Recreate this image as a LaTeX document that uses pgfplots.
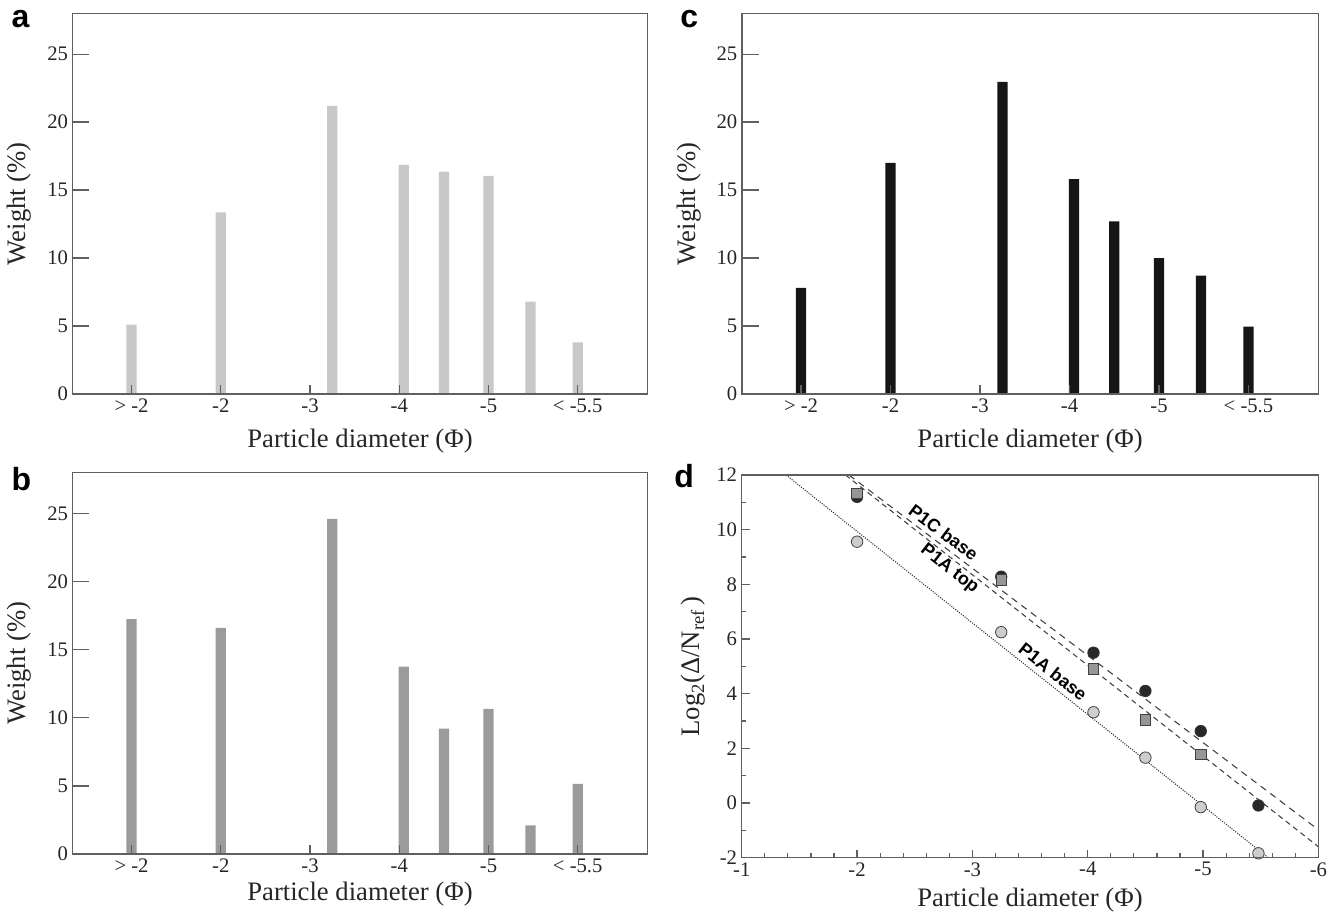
\documentclass[border=0pt]{standalone}
\usepackage{fontspec}
\setmainfont{Liberation Serif}
\newfontfamily\lsans{Liberation Sans}
\usepackage{pgfplots}
\pgfplotsset{compat=1.18}
\definecolor{barA}{RGB}{200,200,200}
\definecolor{barB}{RGB}{155,155,155}
\definecolor{barC}{RGB}{22,22,22}
\definecolor{axcol}{RGB}{95,95,95}
\definecolor{mkA}{RGB}{205,205,205}
\definecolor{mkB}{RGB}{150,150,150}
\definecolor{mkC}{RGB}{40,40,40}
\pgfplotsset{
  common/.style={
    scale only axis, anchor=north west,
    tick pos=left, tick align=inside,
    axis line style={axcol, line width=1pt},
    tick style={axcol, line width=0.9pt},
    ticklabel style={font=\fontsize{15.5}{18}\selectfont, text=black!85},
    label style={font=\fontsize{20}{24}\selectfont, text=black!85},
    xlabel={Particle diameter (Φ)},
    axis on top,
  },
  barpanel/.style={
    common,
    xmin=0.34, xmax=6.78, ymin=0, ymax=28,
    xtick={1,2,3,4,5,6},
    xticklabels={{> -2},{-2},{-3},{-4},{-5},{< -5.5}},
    ytick={0,5,10,15,20,25}, yticklabels={0,5,10,15,20,25},
    minor tick num=0,
    xtick style={/pgfplots/major tick length=7pt},
    ytick style={/pgfplots/major tick length=12.5pt},
    ylabel={Weight (\%)},
    ylabel style={at={(axis description cs:-0.071,0.5)}, anchor=south, inner sep=0pt},
  },
}
\begin{document}
\begin{tikzpicture}
\path[use as bounding box] (0,0) rectangle (1003.5pt,-684pt);

% Panel a
\begin{axis}[barpanel, at={(54.5pt,-10pt)}, width=431pt, height=285.5pt,
  xlabel style={at={(axis description cs:0.5,-0.092)}, anchor=north, inner sep=0pt}]
\addplot[ybar, bar width=0.115, fill=barA, draw=none] coordinates {
 (1,5.1) (2,13.35) (3.25,21.2) (4.05,16.85) (4.5,16.35) (5.0,16.05) (5.47,6.8) (6,3.8)};
\end{axis}

% Panel b
\begin{axis}[barpanel, at={(54.5pt,-354.5pt)}, width=431pt, height=286pt,
  xlabel style={at={(axis description cs:0.5,-0.073)}, anchor=north, inner sep=0pt}]
\addplot[ybar, bar width=0.115, fill=barB, draw=none] coordinates {
 (1,17.25) (2,16.6) (3.25,24.6) (4.05,13.75) (4.5,9.2) (5.0,10.65) (5.47,2.1) (6,5.15)};
\end{axis}

% Panel c
\begin{axis}[barpanel, at={(556.5pt,-10pt)}, width=432.2pt, height=285.5pt,
  xlabel style={at={(axis description cs:0.5,-0.092)}, anchor=north, inner sep=0pt}]
\addplot[ybar, bar width=0.115, fill=barC, draw=none] coordinates {
 (1,7.8) (2,17.0) (3.25,22.95) (4.05,15.8) (4.5,12.7) (5.0,10.0) (5.47,8.7) (6,4.95)};
\end{axis}

% Panel d
\begin{axis}[common, at={(556.3pt,-356.25pt)}, width=432.5pt, height=287pt,
  xmin=-6, xmax=-1, x dir=reverse, ymin=-2, ymax=12,
  xtick={-1,-2,-3,-4,-5,-6}, xticklabels={-1,-2,-3,-4,-5,-6},
  ytick={-2,0,2,4,6,8,10,12}, yticklabels={-2,0,2,4,6,8,10,12},
  minor x tick num=4, minor y tick num=1,
  major tick length=6pt, minor tick length=3.5pt,
  ylabel={Log\textsubscript{2}(Δ/N\textsubscript{ref}\,)},
  ylabel style={at={(axis description cs:-0.062,0.5)}, anchor=south, inner sep=0pt},
  xlabel style={at={(axis description cs:0.5,-0.078)}, anchor=north, inner sep=0pt},
  clip mode=individual]
\addplot[black!80, densely dotted, line width=0.8pt] coordinates {(-1.384,12) (-5.565,-2)};
\addplot[black!75, dash pattern=on 5pt off 4pt, line width=0.8pt] coordinates {(-1.93,12) (-6,-0.98)};
\addplot[black!75, dash pattern=on 4pt off 3pt, line width=0.8pt] coordinates {(-1.90,12) (-6,-1.6)};
\addplot[only marks, mark=*, mark size=4.3pt, mark options={fill=mkC, draw=black!80, line width=0.6pt}] coordinates {
 (-2,11.2) (-3.25,8.28) (-4.05,5.5) (-4.5,4.1) (-4.98,2.63) (-5.48,-0.09)};
\addplot[only marks, mark=square*, mark size=4pt, mark options={fill=mkB, draw=black!75, line width=0.6pt}] coordinates {
 (-2,11.33) (-3.25,8.16) (-4.05,4.91) (-4.5,3.03) (-4.98,1.78)};
\addplot[only marks, mark=*, mark size=4.3pt, mark options={fill=mkA, draw=black!75, line width=0.6pt}] coordinates {
 (-2,9.56) (-3.25,6.25) (-4.05,3.32) (-4.5,1.66) (-4.98,-0.15) (-5.48,-1.84)};
\node[font=\lsans\bfseries\fontsize{13.5}{16}\selectfont, rotate=-37, inner sep=0pt] at (axis cs:-2.75,9.9) {P1C base};
\node[font=\lsans\bfseries\fontsize{13.5}{16}\selectfont, rotate=-38, inner sep=0pt] at (axis cs:-2.80,8.55) {P1A top};
\node[font=\lsans\bfseries\fontsize{13.5}{16}\selectfont, rotate=-38.5, inner sep=0pt] at (axis cs:-3.70,4.81) {P1A base};
\end{axis}

% Panel letters
\node[font=\lsans\bfseries\fontsize{24}{26}\selectfont, anchor=base west, inner sep=0pt] at (8.5pt,-21pt) {a};
\node[font=\lsans\bfseries\fontsize{24}{26}\selectfont, anchor=base west, inner sep=0pt] at (8.5pt,-367.5pt) {b};
\node[font=\lsans\bfseries\fontsize{24}{26}\selectfont, anchor=base west, inner sep=0pt] at (510pt,-21pt) {c};
\node[font=\lsans\bfseries\fontsize{24}{26}\selectfont, anchor=base west, inner sep=0pt] at (505.5pt,-365.5pt) {d};
\end{tikzpicture}
\end{document}
